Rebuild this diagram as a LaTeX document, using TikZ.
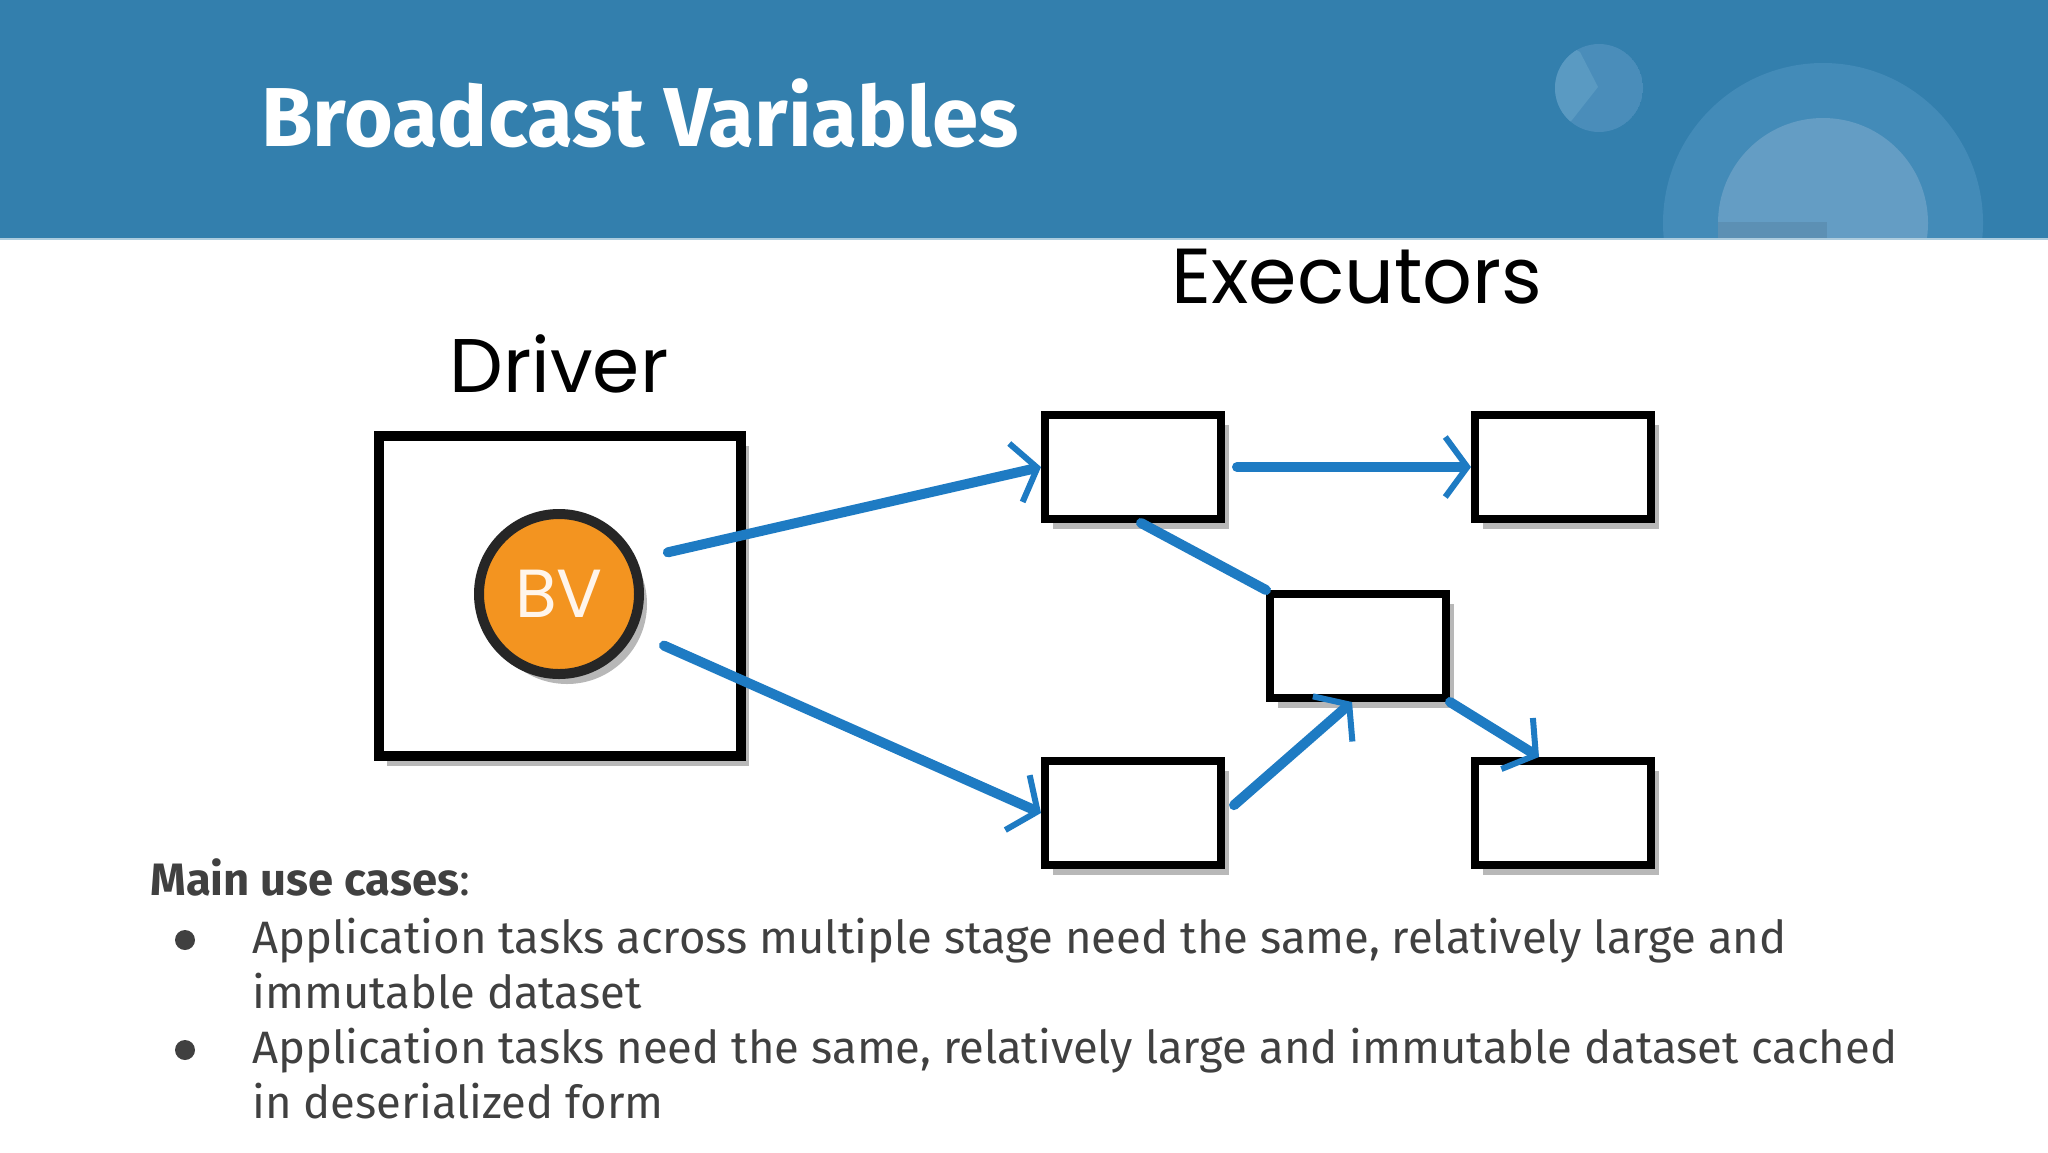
\documentclass[tikz,border=0pt]{standalone}
\usepackage{fontspec}
\setmainfont{Fira Sans}
\newfontfamily\handfont{Poppins}
\usetikzlibrary{arrows.meta,shadows,positioning}

\definecolor{headblue}{HTML}{337FAD}
\definecolor{ringblue}{HTML}{438BB8}
\definecolor{coreblue}{HTML}{649DC4}
\definecolor{dotblue}{HTML}{4A8DBA}
\definecolor{wedgeblue}{HTML}{5A9AC2}
\definecolor{linkblue}{HTML}{1E7BC3}
\definecolor{bvorange}{HTML}{F39420}
\definecolor{bodygray}{HTML}{404040}

\tikzset{
	boxshadow/.style={drop shadow={shadow xshift=4pt, shadow yshift=-5pt, opacity=.35, fill=black!80}},
	execbox/.style={draw=black, line width=4pt, fill=white,
		minimum width=88pt, minimum height=52pt, boxshadow},
	bcast/.style={draw=linkblue, line width=5pt, line cap=round,
		-{Straight Barb[length=11pt, width=30pt, line width=3pt]}},
	bline/.style={draw=linkblue, line width=5pt, line cap=round},
	bodyline/.style={anchor=base west, inner sep=0pt, text=bodygray,
		font=\fontsize{22.7}{26}\selectfont},
	dot/.style={circle, fill=bodygray, inner sep=0pt, minimum size=10pt},
}

\begin{document}
\begin{tikzpicture}[x=.5pt, y=-.5pt]
	\useasboundingbox (0,0) rectangle (2048,1152);
	
	% header band
	\fill[headblue] (0,0) rectangle (2048,239);
	\begin{scope}
		\clip (0,0) rectangle (2048,239);
		\fill[ringblue] (1823,223) circle (160);
		\fill[coreblue] (1823,223) circle (105);
		\fill[coreblue!92!black] (1718,222) rectangle (1827,239);
	\end{scope}
	\begin{scope}
		\clip (1599,88) circle (44);
		\fill[dotblue] (1599,88) circle (44);
		\fill[wedgeblue] (1540,30) -- (1580,52) -- (1598,87) -- (1572,120) -- (1540,150) -- cycle;
	\end{scope}
	\draw[headblue!40!white, line width=1pt] (0,239) -- (2048,239);
	
	\node[anchor=base west, inner sep=0pt, text=white,
		font=\fontsize{41.8}{44}\selectfont\bfseries] (title) at (261,146) {Broadcast Variables};
	
	% driver
	\node[draw=black, line width=5pt, fill=white, minimum width=181pt, minimum height=160pt,
		boxshadow] (driver) at (560,596) {};
	\node[circle, draw=black!85, line width=5pt, fill=bvorange, minimum size=80pt,
		text=orange!8!white, font=\handfont\fontsize{34}{36}\selectfont, boxshadow] (bv) at (559,594) {BV};
	\node[anchor=base, inner sep=0pt, font=\handfont\fontsize{38}{42}\selectfont] (drvlabel) at (559,392) {Driver};
	
	% executors
	\node[anchor=base, inner sep=0pt, font=\handfont\fontsize{39}{42}\selectfont] (exlabel) at (1357,303) {Executors};
	\node[execbox] (e1) at (1133,467) {};
	\node[execbox] (e2) at (1563,467) {};
	\node[execbox] (e3) at (1358,646) {};
	\node[execbox] (e4) at (1133,813) {};
	\node[execbox] (e5) at (1563,813) {};
	
	\draw[bcast, shorten <=16pt] (bv.24) -- (e1.west);
	\draw[bcast, shorten <=16pt] (bv.-27) -- (e4.west);
	\draw[bcast, shorten <=6pt] (e1.east) -- (e2.west);
	\draw[bline] ([xshift=4pt]e1.south) -- (e3.north west);
	\draw[bcast, shorten <=6pt] (e4.east) -- ([xshift=-3pt]e3.south);
	\draw[bcast] (e3.south east) -- ([xshift=-12pt]e5.north);
	
	% use cases
	\node[anchor=base west, inner sep=0pt, text=bodygray,
		font=\fontsize{22.7}{26}\selectfont] (cases) at (150,895) {\textbf{Main use cases}:};
	\node[dot] (dot1) at (185,940) {};
	\node[bodyline] (l1) at (252,953) {Application tasks across multiple stage need the same, relatively large and};
	\node[bodyline] (l2) at (252,1008) {immutable dataset};
	\node[dot] (dot2) at (185,1050) {};
	\node[bodyline] (l3) at (252,1063) {Application tasks need the same, relatively large and immutable dataset cached};
	\node[bodyline] (l4) at (252,1118) {in deserialized form};
\end{tikzpicture}
\end{document}
